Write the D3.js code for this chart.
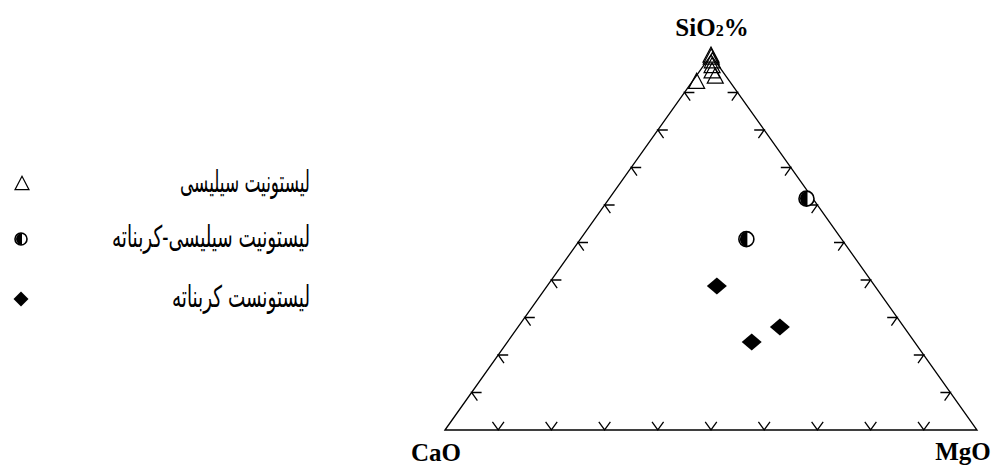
<!DOCTYPE html>
<html>
<head>
<meta charset="utf-8">
<script src="https://cdn.jsdelivr.net/npm/d3@7"></script>
<style>
  body { margin: 0; background: #fff; }
  svg { display: block; }
</style>
</head>
<body>
<div id="chart"></div>
<script>
// legend labels (Persian), in drawing order
const groupNames = ["لیستونیت سیلیسی", "لیستونیت سیلیسی-کربناته", "لیستونست کربناته"];
const cornerNames = ["SiO", "CaO", "MgO"];
const tickValues = [10, 20, 30, 40, 50, 60, 70, 80, 90];

// siliceous listvenite (triangles), wt% normalised
const silSiO2 = [92.8, 94.2, 95.6, 97.0, 98.3, 99.3, 99.8];
const silCaO  = [6.3, 2.1, 2.0, 1.3, 0.6, 0.3, 0.1];
const silMgO  = [0.9, 3.7, 2.4, 1.7, 1.1, 0.4, 0.1];

// siliceous-carbonate listvenite (half circles)
const scSiO2 = [61.7, 50.9];
const scCaO  = [1.2, 17.9];
const scMgO  = [37.1, 31.2];

// carbonate listvenite (diamonds)
const carbSiO2 = [38.4, 27.5, 23.5];
const carbCaO  = [29.7, 23.3, 30.6];
const carbMgO  = [31.9, 49.2, 45.9];

var width = 998, height = 466;

var svg = d3.select("#chart").append("svg")
    .attr("width", width)
    .attr("height", height);

// ternary frame: apex SiO2, left CaO, right MgO
var x = d3.scaleLinear().domain([0, 100]).range([445, 977]);
var y = d3.scaleLinear().domain([0, 100]).range([430, 55]);

function toXY(si, ca, mg) {
  var s = si + ca + mg;
  si = si / s * 100; mg = mg / s * 100;
  return [x(mg + si / 2), y(si)];
}

var A = toXY(100, 0, 0), B = toXY(0, 100, 0), C = toXY(0, 0, 100);

svg.append("path")
    .attr("d", d3.line()([B, A, C, B]) + "Z")
    .attr("fill", "none")
    .attr("stroke", "#000")
    .attr("stroke-width", 1.3);

function unit(p, q) {
  var dx = q[0] - p[0], dy = q[1] - p[1], l = Math.hypot(dx, dy);
  return [dx / l, dy / l];
}
var L = 10;
var ticks = [];
tickValues.forEach(function(t) {
  // bottom edge (SiO2 = 0)
  ticks.push({p: toXY(0, 100 - t, t), d: [unit(B, A), unit(C, A)]});
  // left edge (MgO = 0)
  ticks.push({p: toXY(t, 100 - t, 0), d: [unit(B, C), unit(A, C)]});
  // right edge (CaO = 0)
  ticks.push({p: toXY(t, 0, 100 - t), d: [unit(C, B), unit(A, B)]});
});

svg.append("g").selectAll("path")
  .data(ticks)
  .enter().append("path")
    .attr("d", function(t) {
      var a = t.d[0], b = t.d[1], p = t.p;
      return "M" + (p[0] + a[0] * L) + "," + (p[1] + a[1] * L) +
             "L" + p[0] + "," + p[1] +
             "L" + (p[0] + b[0] * L) + "," + (p[1] + b[1] * L);
    })
    .attr("fill", "none")
    .attr("stroke", "#000")
    .attr("stroke-width", 1.3);

// marker drawing helpers
function drawTriangle(g, cx, cy, s) {
  g.append("path")
    .attr("d", "M" + cx + "," + (cy - s * 0.55) + "L" + (cx + s / 2) + "," + (cy + s * 0.4) +
               "L" + (cx - s / 2) + "," + (cy + s * 0.4) + "Z")
    .attr("fill", "none")
    .attr("stroke", "#000").attr("stroke-width", 1.2);
}
function drawHalf(g, cx, cy, r) {
  g.append("circle").attr("cx", cx).attr("cy", cy).attr("r", r)
    .attr("fill", "#fff").attr("stroke", "#000").attr("stroke-width", 1.6);
  g.append("path")
    .attr("d", "M" + (cx + 1) + "," + (cy - r) + "A" + r + "," + r + " 0 0 0 " + (cx + 1) + "," + (cy + r) + "Z")
    .attr("fill", "#000");
}
function drawDiamond(g, cx, cy, w, h) {
  g.append("path")
    .attr("d", "M" + cx + "," + (cy - h / 2) + "L" + (cx + w / 2) + "," + cy +
               "L" + cx + "," + (cy + h / 2) + "L" + (cx - w / 2) + "," + cy + "Z")
    .attr("fill", "#000");
}

var pts = svg.append("g");
silSiO2.forEach(function(v, i) {
  var p = toXY(v, silCaO[i], silMgO[i]);
  drawTriangle(pts, p[0], p[1], 16);
});
scSiO2.forEach(function(v, i) {
  var p = toXY(v, scCaO[i], scMgO[i]);
  drawHalf(pts, p[0], p[1], 7.5);
});
carbSiO2.forEach(function(v, i) {
  var p = toXY(v, carbCaO[i], carbMgO[i]);
  drawDiamond(pts, p[0], p[1], 20, 17);
});

// corner labels
var lab = svg.append("g")
    .attr("font-family", "'Liberation Serif', 'Times New Roman', serif")
    .attr("font-weight", "bold")
    .attr("font-size", 25);
var siText = lab.append("text").attr("x", A[0] + 1).attr("y", 36).attr("text-anchor", "middle");
siText.append("tspan").text(cornerNames[0]);
siText.append("tspan").attr("font-size", 16).text("2");
siText.append("tspan").text("%");
lab.append("text").attr("x", B[0] - 9).attr("y", 461).attr("text-anchor", "middle").text(cornerNames[1]);
lab.append("text").attr("x", C[0] - 14).attr("y", 460).attr("text-anchor", "middle").text(cornerNames[2]);

// legend
var legY = [184, 239, 299];
var legW = [130, 198, 138];
var leg = svg.append("g");
drawTriangle(leg, 22, legY[0], 14);
drawHalf(leg, 21, legY[1], 6);
drawDiamond(leg, 21, legY[2], 15, 15);
leg.selectAll("text")
  .data(groupNames)
  .enter().append("text")
    .attr("x", 310)
    .attr("y", function(d, i) { return legY[i] + 8; })
    .attr("direction", "rtl")
    .attr("text-anchor", "start")
    .attr("font-family", "'DejaVu Serif', 'DejaVu Sans', serif")
    .attr("font-size", 30)
    .attr("textLength", function(d, i) { return legW[i]; })
    .attr("lengthAdjust", "spacingAndGlyphs")
    .text(function(d) { return d; });
</script>
</body>
</html>
